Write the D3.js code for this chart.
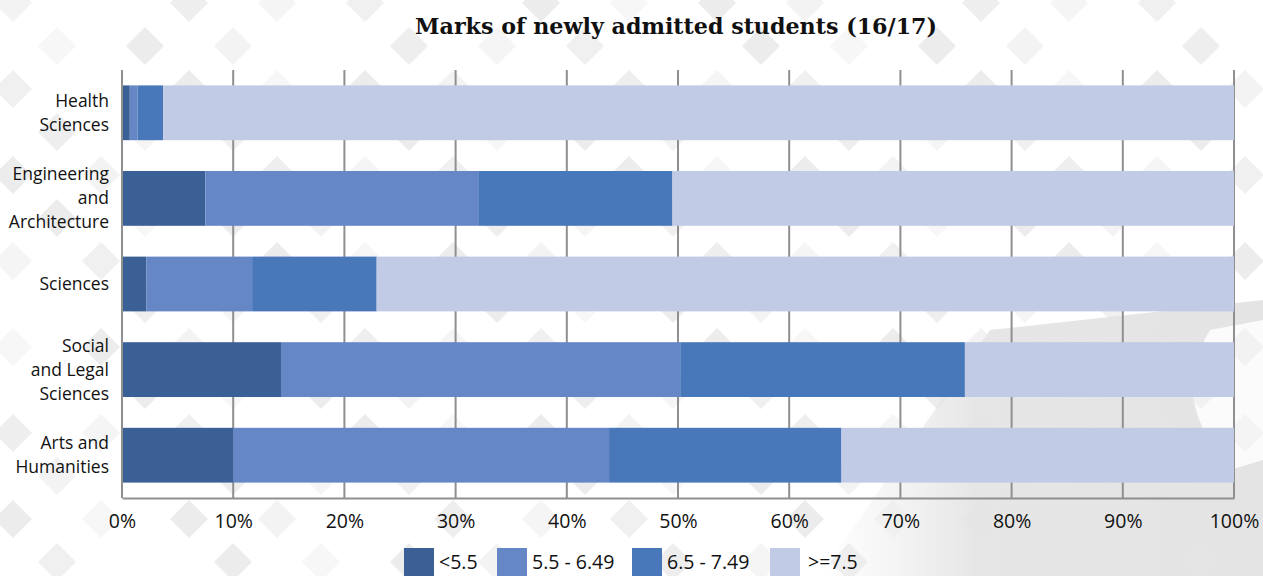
<!DOCTYPE html>
<html><head><meta charset="utf-8">
<script src="https://cdn.jsdelivr.net/npm/d3@7"></script>
<style>
html,body{margin:0;padding:0;background:#fff;}
svg{display:block;}
</style></head>
<body>
<svg id="chart" width="1263" height="576"></svg>
<script>
const title = "Marks of newly admitted students (16/17)";
const categories = ["Health Sciences", "Engineering and Architecture", "Sciences", "Social and Legal Sciences", "Arts and Humanities"];
const categoryLines = [["Health","Sciences"],["Engineering","and","Architecture"],["Sciences"],["Social","and Legal","Sciences"],["Arts and","Humanities"]];
const seriesNames = ["<5.5", "5.5 - 6.49", "6.5 - 7.49", ">=7.5"];
const below55 = [0.7, 7.5, 2.2, 14.3, 10.0];
const s55to649 = [0.7, 24.6, 9.5, 35.9, 33.8];
const s65to749 = [2.3, 17.4, 11.2, 25.6, 20.9];
const above75 = [96.3, 50.5, 77.1, 24.2, 35.3];
const tickValues = [0,10,20,30,40,50,60,70,80,90,100];
const colors = ["#3A6095", "#6587C5", "#4877BA", "#C1CBE5"];

const svg = d3.select("#chart");
const W = 1263, H = 576;
const margin = {left:122, right:29, top:70, bottom:78};

// decorative background
const bg = svg.append("g");
bg.append("rect").attr("width",W).attr("height",H).attr("fill","#fff");
const grad = svg.append("defs").append("linearGradient").attr("id","gr").attr("x1","0").attr("x2","1").attr("y1","0").attr("y2","0");
grad.append("stop").attr("offset","0").attr("stop-color","#ebebeb").attr("stop-opacity",0);
grad.append("stop").attr("offset","0.35").attr("stop-color","#e6e6e6").attr("stop-opacity",1);
grad.append("stop").attr("offset","1").attr("stop-color","#e4e4e4").attr("stop-opacity",1);
bg.append("path").attr("d","M820,576 L990,330 L1263,300 L1263,576 Z").attr("fill","url(#gr)");
bg.append("path").attr("d","M1210,330 C1180,380 1190,420 1230,470 L1263,460 L1263,320 Z").attr("fill","#fff").attr("opacity",0.85);
const dx = 88, dy = 43, r = 19;
let k = 0;
for (let row = 0; row*dy <= H + dy; row++) {
  const off = (row % 2) ? dx/2 : 0;
  for (let cx = 13 + off; cx < W + dx; cx += dx) {
    k++;
    const cy = 3 + row*dy;
    const op = [0.9,0.6,0.0,0.8,0.5,0.7,0.0,0.9,0.4][k % 9];
    if (op === 0) continue;
    bg.append("path")
      .attr("d", `M${cx},${cy-r} L${cx+r},${cy} L${cx},${cy+r} L${cx-r},${cy} Z`)
      .attr("fill", "#e4e5e4").attr("opacity", op*0.8);
  }
}

const x = d3.scaleLinear().domain([0,100]).range([margin.left, W - margin.right]);
const y = d3.scaleBand().domain(categories).range([margin.top, H - margin.bottom]).paddingInner(0.36).paddingOuter(0.18);

// gridlines
svg.append("g").selectAll("line").data(tickValues.slice(1)).join("line")
  .attr("x1", d=>x(d)).attr("x2", d=>x(d))
  .attr("y1", margin.top).attr("y2", H - margin.bottom)
  .attr("stroke","#8f8f8f").attr("stroke-width",2);

// stacked bars
const rows = categories.map((c,i)=>({cat:c, "<5.5":below55[i], "5.5 - 6.49":s55to649[i], "6.5 - 7.49":s65to749[i], ">=7.5":above75[i]}));
const stacked = d3.stack().keys(seriesNames)(rows);
svg.append("g").selectAll("g").data(stacked).join("g")
  .attr("fill", (d,i)=>colors[i])
  .selectAll("rect").data(d=>d).join("rect")
  .attr("x", d=>x(d[0])).attr("width", d=>x(d[1])-x(d[0]))
  .attr("y", d=>y(d.data.cat)).attr("height", y.bandwidth());

// axes
const xAxis = d3.axisBottom(x).tickValues(tickValues).tickFormat(d=>d+"%").tickSize(0).tickPadding(16);
const gx = svg.append("g").attr("transform",`translate(0,${H - margin.bottom})`).call(xAxis);
gx.select(".domain").attr("stroke","#8f8f8f").attr("stroke-width",2);
gx.selectAll("text").attr("font-family","'Open Sans', sans-serif").attr("font-size",19.5).attr("fill","#111");
svg.append("line").attr("x1",margin.left).attr("x2",margin.left).attr("y1",margin.top).attr("y2",H-margin.bottom)
  .attr("stroke","#8f8f8f").attr("stroke-width",2);

// category labels
const lab = svg.append("g");
categories.forEach((c,i)=>{
  const lines = categoryLines[i];
  const cy = y(c) + y.bandwidth()/2;
  const lh = 24;
  const t = lab.append("text").attr("text-anchor","end")
    .attr("font-family","'Open Sans', sans-serif")
    .attr("font-size",17.5).attr("fill","#111");
  lines.forEach((l,j)=>{
    t.append("tspan").attr("x",109).attr("y", cy + (j - (lines.length-1)/2)*lh + 6).text(l);
  });
});

// title
svg.append("text").attr("x",415).attr("y",34)
  .attr("font-family","'DejaVu Serif Condensed', 'DejaVu Serif', serif").attr("font-weight","bold")
  .attr("font-size",22).attr("fill","#111")
  .attr("textLength",522).attr("lengthAdjust","spacingAndGlyphs").text(title);

// legend
const legX = [404, 497, 632, 770];
const lg = svg.append("g");
seriesNames.forEach((s,i)=>{
  lg.append("rect").attr("x",legX[i]).attr("y",548).attr("width",30).attr("height",28).attr("fill",colors[i]);
  lg.append("text").attr("x",legX[i] + (i===3?38:35)).attr("y",569)
    .attr("font-family","'Open Sans', sans-serif").attr("font-size",19.5).attr("fill","#111").text(s);
});
</script>
</body></html>
